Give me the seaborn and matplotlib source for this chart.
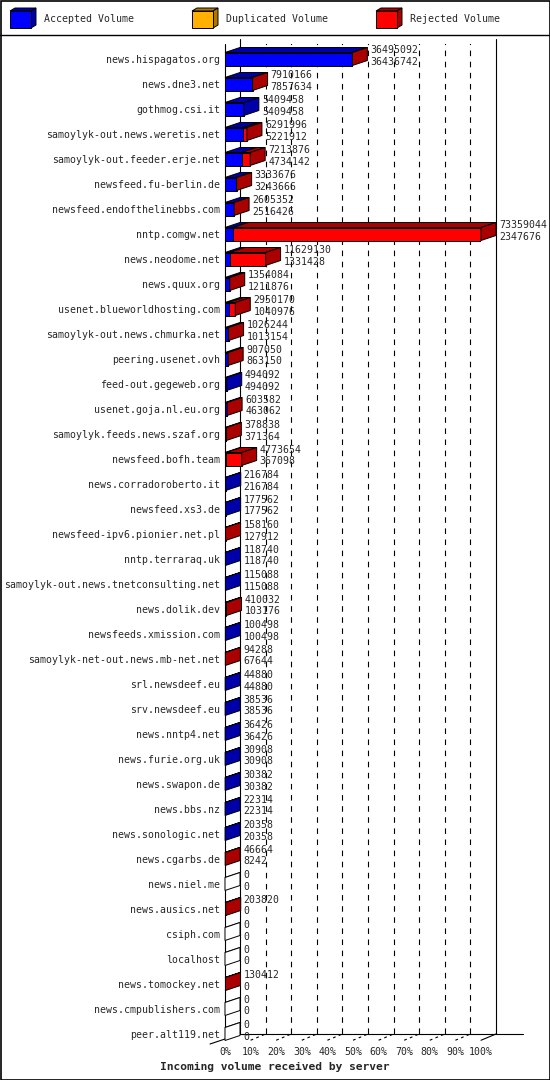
import numpy as np
import matplotlib
matplotlib.use("Agg")
import matplotlib.pyplot as plt
from matplotlib.patches import Polygon, Rectangle
import seaborn as sns

# incoming volume per server (bytes): total and accepted, duplicated is 0 everywhere
servers = [
    "news.hispagatos.org", "news.dne3.net", "gothmog.csi.it",
    "samoylyk-out.news.weretis.net", "samoylyk-out.feeder.erje.net",
    "newsfeed.fu-berlin.de", "newsfeed.endofthelinebbs.com", "nntp.comgw.net",
    "news.neodome.net", "news.quux.org", "usenet.blueworldhosting.com",
    "samoylyk-out.news.chmurka.net", "peering.usenet.ovh", "feed-out.gegeweb.org",
    "usenet.goja.nl.eu.org", "samoylyk.feeds.news.szaf.org", "newsfeed.bofh.team",
    "news.corradoroberto.it", "newsfeed.xs3.de", "newsfeed-ipv6.pionier.net.pl",
    "nntp.terraraq.uk", "samoylyk-out.news.tnetconsulting.net", "news.dolik.dev",
    "newsfeeds.xmission.com", "samoylyk-net-out.news.mb-net.net", "srl.newsdeef.eu",
    "srv.newsdeef.eu", "news.nntp4.net", "news.furie.org.uk", "news.swapon.de",
    "news.bbs.nz", "news.sonologic.net", "news.cgarbs.de", "news.niel.me",
    "news.ausics.net", "csiph.com", "localhost", "news.tomockey.net",
    "news.cmpublishers.com", "peer.alt119.net",
]
total_volume = [
    36495092, 7910166, 5409458, 6291996, 7213876, 3333676, 2605352, 73359044,
    11629130, 1354084, 2950170, 1026244, 907050, 494092, 603582, 378838,
    4773654, 216784, 177562, 158160, 118740, 115088, 410032, 100498, 94288,
    44880, 38536, 36426, 30908, 30382, 22314, 20358, 46664, 0, 203820, 0, 0,
    130412, 0, 0,
]
accepted_volume = [
    36436742, 7857634, 5409458, 5221912, 4734142, 3243666, 2516426, 2347676,
    1331428, 1211876, 1040976, 1013154, 863150, 494092, 463062, 371364,
    367098, 216784, 177562, 127912, 118740, 115088, 103176, 100498, 67644,
    44880, 38536, 36426, 30908, 30382, 22314, 20358, 8242, 0, 0, 0, 0,
    0, 0, 0,
]
duplicated_volume = [
    0, 0, 0, 0, 0, 0, 0, 0, 0, 0, 0, 0, 0, 0, 0, 0, 0, 0, 0, 0,
    0, 0, 0, 0, 0, 0, 0, 0, 0, 0, 0, 0, 0, 0, 0, 0, 0, 0, 0, 0,
]
legend_labels = ["Accepted Volume", "Duplicated Volume", "Rejected Volume"]
tick_labels = ["0%", "10%", "20%", "30%", "40%", "50%", "60%", "70%", "80%", "90%", "100%"]

total = np.array(total_volume, dtype=float)
acc = np.array(accepted_volume, dtype=float)
dup = np.array(duplicated_volume, dtype=float)
n = len(servers)
xmax = total.max()

FACE = ["#0000ff", "#ffb000", "#ff0000"]
DARK = ["#0000aa", "#b07800", "#aa0000"]
FONT = "DejaVu Sans Mono"
FS = 7.1
LW = 0.7

sns.set_style("white")
plt.rcParams["font.family"] = [FONT]

fig = plt.figure(figsize=(5.5, 10.8), dpi=100)
fig.patch.set_facecolor("white")

# background layer in pixel units: frame + legend
bg = fig.add_axes([0, 0, 1, 1], zorder=0)
bg.set_xlim(0, 550)
bg.set_ylim(1080, 0)
bg.axis("off")
bg.add_patch(Rectangle((0.5, 0.5), 549, 1079, fill=False, lw=1.2, ec="black"))
bg.plot([0, 550], [34.5, 34.5], color="black", lw=1)
for k, (lab, x0) in enumerate(zip(legend_labels, [10, 192, 376])):
    w, h, d, e = 21, 17, 5, 3
    bg.add_patch(Polygon([(x0, 11), (x0 + w, 11), (x0 + w + d, 11 - e), (x0 + d, 11 - e)],
                         fc=DARK[k], ec="black", lw=LW))
    bg.add_patch(Polygon([(x0 + w, 11), (x0 + w + d, 11 - e), (x0 + w + d, 11 + h - e), (x0 + w, 11 + h)],
                         fc=DARK[k], ec="black", lw=LW))
    bg.add_patch(Rectangle((x0, 11), w, h, fc=FACE[k], ec="black", lw=LW))
    bg.text(x0 + 34, 19.5, lab, fontsize=FS, va="center", ha="left")

# main chart: x in bytes, y in rows
ax = fig.add_axes([225 / 550, 1 - 1039 / 1080, 256 / 550, (1039 - 44) / 1080], zorder=1)
ax.patch.set_alpha(0)

DX = xmax * 15 / 256   # depth, 15 px
DY = 0.2               # depth, 5 px
H = 0.52
ybot, ytop = 39.2, -0.6
yfloor = ybot - DY

# back wall grid
ax.vlines(np.arange(1, 10) * xmax / 10 + DX, ytop - DY, yfloor, colors="black",
          lw=0.8, linestyles=(0, (5, 5)), zorder=0.5)
ax.plot([DX, DX], [ytop - DY, yfloor], color="black", lw=0.8, clip_on=False)
ax.plot([xmax + DX, xmax + DX], [ytop - DY, yfloor], color="black", lw=0.8, clip_on=False)
ax.plot([0, 0], [ytop, ybot], color="black", lw=0.8, clip_on=False)
# floor
ax.plot([DX, xmax * (523 - 225) / 256], [yfloor, yfloor], color="black", lw=0.8, clip_on=False)
ax.plot([-DX, DX], [ybot + DY, yfloor], color="black", lw=0.8, clip_on=False)
ax.plot([xmax, xmax + DX], [ybot + 0.05, yfloor], color="black", lw=0.8, clip_on=False)
for k in range(1, 10):
    xk = k * xmax / 10
    ax.plot([xk, xk + DX], [ybot + 0.05, yfloor], color="black", lw=0.8,
            ls=(0, (2.5, 3)), clip_on=False)

# front faces
sns.barplot(x=total_volume, y=servers, orient="y", color=FACE[2], saturation=1,
            width=H, edgecolor="black", linewidth=LW, errorbar=None, ax=ax, zorder=2)
sns.barplot(x=list(acc + dup), y=servers, orient="y", color=FACE[1], saturation=1,
            width=H, edgecolor="black", linewidth=LW, errorbar=None, ax=ax, zorder=2.1)
sns.barplot(x=accepted_volume, y=servers, orient="y", color=FACE[0], saturation=1,
            width=H, edgecolor="black", linewidth=LW, errorbar=None, ax=ax, zorder=2.2)

# top and side faces
for i in range(n):
    yt, yb = i - H / 2, i + H / 2
    bounds = [0, acc[i], acc[i] + dup[i], total[i]]
    last = "white"
    for k in range(3):
        x0, x1 = bounds[k], bounds[k + 1]
        if x1 <= x0:
            continue
        ax.add_patch(Polygon([(x0, yt), (x1, yt), (x1 + DX, yt - DY), (x0 + DX, yt - DY)],
                             fc=DARK[k], ec="black", lw=LW, zorder=3, clip_on=False))
        last = DARK[k]
    x1 = total[i]
    if last == "white":
        ax.add_patch(Polygon([(0, yt), (DX, yt - DY), (DX, yt - DY)], fc="white",
                             ec="black", lw=LW, zorder=3, clip_on=False))
    ax.add_patch(Polygon([(x1, yt), (x1 + DX, yt - DY), (x1 + DX, yb - DY), (x1, yb)],
                         fc=last, ec="black", lw=LW, zorder=3, clip_on=False))
    ax.annotate(str(total_volume[i]), xy=(x1, i), xytext=(18, 9), textcoords="offset pixels",
                fontsize=FS, va="center", ha="left", annotation_clip=False, zorder=4)
    ax.annotate(str(accepted_volume[i]), xy=(x1, i), xytext=(18, -2.5), textcoords="offset pixels",
                fontsize=FS, va="center", ha="left", annotation_clip=False, zorder=4)

ax.set_xlim(0, xmax)
ax.set_ylim(ybot, ytop)
ax.set_yticks(range(n))
ax.set_yticklabels(servers, fontsize=FS)
ax.set_xticks(np.arange(11) * xmax / 10)
ax.set_xticklabels(tick_labels, fontsize=FS)
ax.tick_params(axis="y", length=0, pad=3.3)
ax.tick_params(axis="x", length=0, pad=5.5)
ax.set_xlabel("")
ax.set_ylabel("")
for s in ax.spines.values():
    s.set_visible(False)
ax.grid(False)

fig.text(0.5, 1 - 1067 / 1080, "Incoming volume received by server", ha="center",
         va="center", fontsize=8.1, fontweight="bold", family=FONT)

fig.savefig("out.png", dpi=100)
